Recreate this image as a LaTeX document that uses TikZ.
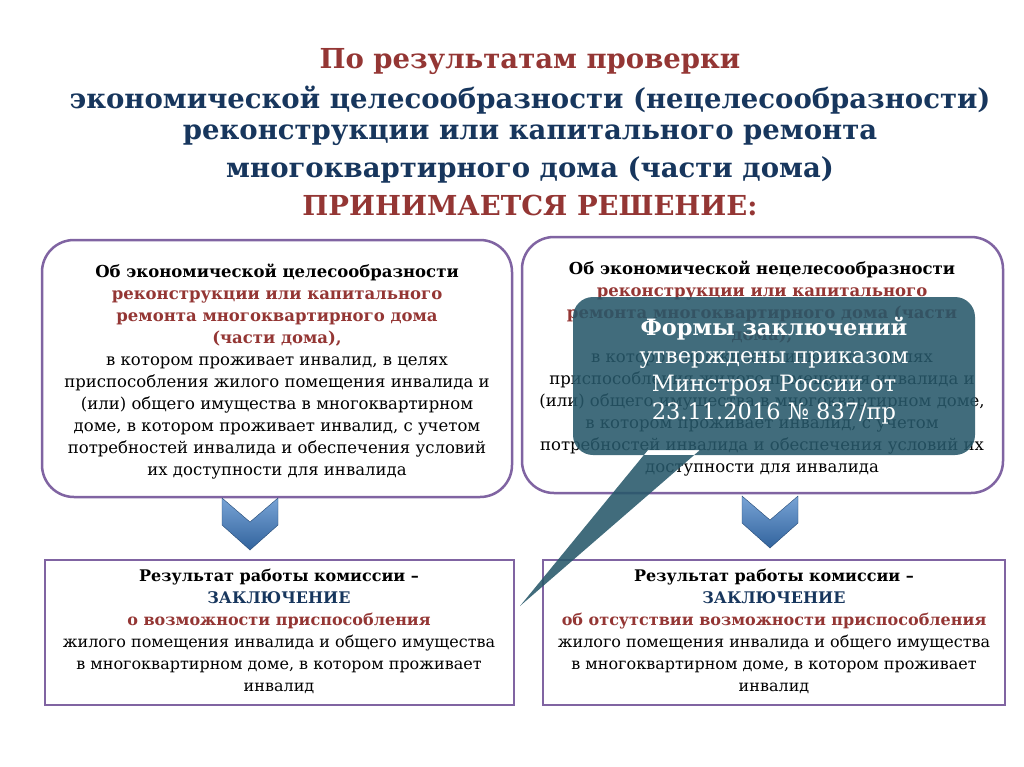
\documentclass[tikz,border=0pt]{standalone}
\usepackage{fontspec}
\setmainfont{DejaVu Serif}
\definecolor{tred}{HTML}{943634}
\definecolor{tblue}{HTML}{17365D}
\definecolor{bord}{HTML}{8064A2}
\definecolor{call}{HTML}{27586A}
\definecolor{chev}{HTML}{3E7CC4}
\tikzset{
 ttl/.style={font=\fontsize{27.5}{30}\selectfont\bfseries, anchor=center},
 body/.style={font=\fontsize{16.5}{22}\selectfont, align=center, anchor=north},
 rbox/.style={draw=bord, line width=2.5pt, rounded corners=32},
 sbox/.style={draw=bord, line width=1.8pt},
 chevr/.style={top color=chev!70!white, bottom color=chev!80!black, draw=chev!60!black, line width=0.4pt},
}
\begin{document}
\begin{tikzpicture}[x=1pt,y=-1pt]
\useasboundingbox (0,0) rectangle (1024,767);
\fill[white] (0,0) rectangle (1024,767);
% title
\node[ttl, text=tred] (t1) at (530,62) {По результатам проверки};
\node[ttl, text=tblue] (t2) at (530,100) {экономической целесообразности (нецелесообразности)};
\node[ttl, text=tblue] (t3) at (530,135) {реконструкции или капитального ремонта};
\node[ttl, text=tblue] (t4) at (530,170) {многоквартирного дома (части дома)};
\node[ttl, text=tred] (t5) at (530,205) {ПРИНИМАЕТСЯ РЕШЕНИЕ:};
% rounded boxes
\draw[rbox] (42,240) rectangle (512,497);
\draw[rbox] (522,237) rectangle (1003,493);
\node[body] (lt) at (277,260) {\textbf{Об экономической целесообразности}\\
\textcolor{tred}{\textbf{реконструкции или капитального}}\\
\textcolor{tred}{\textbf{ремонта многоквартирного дома}}\\
\textcolor{tred}{\textbf{(части дома),}}\\
в котором проживает инвалид, в целях\\
приспособления жилого помещения инвалида и\\
(или) общего имущества в многоквартирном\\
доме, в котором проживает инвалид, с учетом\\
потребностей инвалида и обеспечения условий\\
их доступности для инвалида};
\node[body] (rt) at (762,257) {\textbf{Об экономической нецелесообразности}\\
\textcolor{tred}{\textbf{реконструкции или капитального}}\\
\textcolor{tred}{\textbf{ремонта многоквартирного дома (части}}\\
\textcolor{tred}{\textbf{дома),}}\\
в котором проживает инвалид, в целях\\
приспособления жилого помещения инвалида и\\
(или) общего имущества в многоквартирном доме,\\
в котором проживает инвалид, с учетом\\
потребностей инвалида и обеспечения условий их\\
доступности для инвалида};
% chevrons
\draw[chevr] (222,498)--(250,522)--(278,498)--(278,525)--(250,550)--(222,525)--cycle;
\draw[chevr] (742,496)--(770,520)--(798,496)--(798,523)--(770,548)--(742,523)--cycle;
% bottom boxes
\draw[sbox] (45,560) rectangle (514,705);
\draw[sbox] (543,560) rectangle (1005,705);
\node[body, font=\fontsize{16}{22}\selectfont] (lb) at (279,566) {\textbf{Результат работы комиссии –}\\
\textcolor{tblue}{\textbf{ЗАКЛЮЧЕНИЕ}}\\
\textcolor{tred}{\textbf{о возможности приспособления}}\\
жилого помещения инвалида и общего имущества\\
в многоквартирном доме, в котором проживает\\
инвалид};
\node[body, font=\fontsize{16}{22}\selectfont] (rb) at (774,566) {\textbf{Результат работы комиссии –}\\
\textcolor{tblue}{\textbf{ЗАКЛЮЧЕНИЕ}}\\
\textcolor{tred}{\textbf{об отсутствии возможности приспособления}}\\
жилого помещения инвалида и общего имущества\\
в многоквартирном доме, в котором проживает\\
инвалид};
% callout
\fill[call, fill opacity=0.88] [rounded corners=20] (573,297) rectangle (975,455)
  [sharp corners] (648,450)--(700,450)--(520,606)--cycle;
\node[align=center, text=white, font=\fontsize{22.5}{28}\selectfont] (co) at (774,371)
 {\textbf{Формы заключений}\\утверждены приказом\\Минстроя России от\\23.11.2016 № 837/пр};
\end{tikzpicture}
\end{document}
